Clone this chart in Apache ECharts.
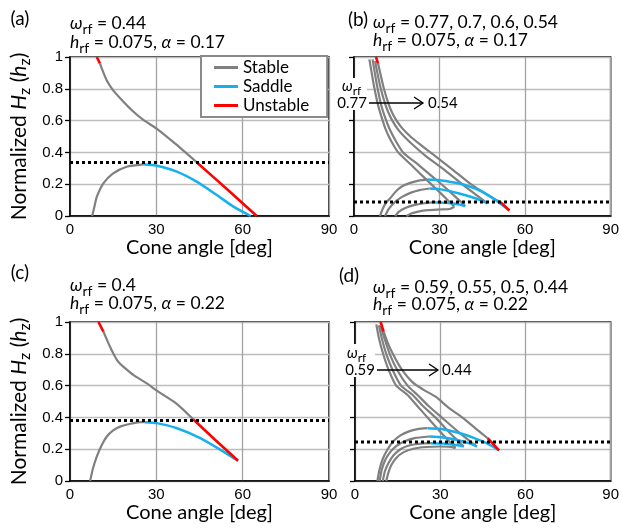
<!DOCTYPE html>
<html><head><meta charset="utf-8">
<script src="https://cdn.jsdelivr.net/npm/echarts@6/dist/echarts.min.js"></script>
<style>html,body{margin:0;padding:0;background:#fff}#c{width:622px;height:529px}</style>
</head><body><div id="c"></div>
<script>
// ---------- data (cone angle [deg], normalized Hz) ----------
const xTicks = [0, 30, 60, 90];
const yTicks = [0, 0.2, 0.4, 0.6, 0.8, 1];
const thresholds = [0.337, 0.0875, 0.38, 0.246];

// panel (a) omega_rf = 0.44, alpha = 0.17
const aUpperRed1 = [[9.3,1.0],[10.4,0.96]];
const aUpperGray = [[10.4,0.96],[11,0.93],[12.7,0.855],[15,0.79],[18,0.73],[21.4,0.667],[25.5,0.604],[30.1,0.55],[37.1,0.447],[44,0.338]];
const aUpperRed2 = [[44,0.338],[54.5,0.17],[64.9,0]];
const aLowerGray = [[7.7,0],[8.5,0.06],[9.3,0.12],[11.6,0.205],[15,0.268],[19.7,0.31],[25.5,0.325]];
const aLowerBlue = [[25.5,0.325],[30.1,0.316],[37.1,0.279],[44,0.216],[51,0.132],[56.8,0.059],[62.8,0]];

// panel (b) omega_rf = 0.77, 0.7, 0.6, 0.54, alpha = 0.17
const bUpper77 = [[5.4,0.985],[6.2,0.9],[7.2,0.8],[8.4,0.7],[9.7,0.62],[11,0.55],[12.8,0.48],[15.5,0.4],[20.2,0.319],[25,0.235],[30,0.15],[35.2,0.058]];
const bUpper70 = [[6.5,0.985],[7.3,0.9],[8.3,0.8],[9.5,0.7],[10.9,0.62],[12.4,0.55],[14.4,0.48],[17.2,0.4],[22.8,0.319],[28,0.24],[33.5,0.155],[39,0.063]];
const bUpper60 = [[7.4,0.975],[8.2,0.9],[9.4,0.8],[11,0.7],[12.2,0.645],[13.6,0.595],[15.4,0.545],[17.6,0.5],[20.5,0.45],[25,0.38],[31.7,0.29],[39,0.185],[46.8,0.08]];
const bUpper54Red1 = [[7.7,1.0],[8.4,0.962]];
const bUpper54 = [[8.4,0.962],[9.2,0.9],[10.5,0.8],[12.2,0.7],[13.5,0.645],[15.1,0.595],[17.1,0.548],[19.5,0.505],[22.5,0.46],[27.5,0.39],[34,0.3],[41,0.2],[47,0.13],[51.4,0.0875]];
const bUpper54Red2 = [[51.4,0.0875],[54.5,0.035]];
const bLower54Gray = [[9.1,0],[10.2,0.05],[11.3,0.085],[12.6,0.11],[15,0.16],[17.2,0.19],[20,0.21],[23,0.224],[25.9,0.229]];
const bLower54Blue = [[25.9,0.229],[30,0.225],[36.9,0.204],[43.9,0.162],[49.7,0.1],[54.5,0.035]];
const bLower60Gray = [[10.9,0],[12.2,0.045],[14.5,0.09],[17,0.122],[20,0.147],[23,0.163],[26.5,0.173]];
const bLower60Blue = [[26.5,0.173],[30,0.169],[36.9,0.142],[42.8,0.11],[46.8,0.08]];
const bLower70Gray = [[14.4,0],[15.8,0.028],[18,0.05],[21,0.068],[24.5,0.08],[27.7,0.086]];
const bLower70Blue = [[27.7,0.086],[32,0.083],[36,0.075],[39,0.063]];
const bLower77Gray = [[18.4,0],[20,0.016],[22.5,0.028],[26,0.037],[30,0.041],[33.5,0.044],[35.2,0.058]];

// panel (c) omega_rf = 0.4, alpha = 0.22
const cUpperRed1 = [[9.9,1.0],[11.6,0.94]];
const cUpperGray = [[11.6,0.94],[12.8,0.89],[13.95,0.843],[15.7,0.78],[17,0.745],[18.6,0.718],[22.1,0.666],[26.7,0.614],[30.2,0.568],[37.2,0.484],[42.8,0.388]];
const cUpperRed2 = [[42.8,0.388],[50.5,0.258],[58.4,0.127]];
const cLowerGray = [[7.0,0],[8.0,0.08],[9.3,0.154],[11,0.225],[12.8,0.28],[15,0.318],[17.4,0.342],[21,0.36],[24.4,0.37],[26,0.37]];
const cLowerBlue = [[26,0.37],[30.2,0.364],[37.2,0.332],[45.3,0.27],[52.3,0.196],[58.4,0.127]];

// panel (d) omega_rf = 0.59, 0.55, 0.5, 0.44, alpha = 0.22
const dUpper59 = [[7.5,0.985],[8.4,0.9],[9.9,0.8],[11.8,0.7],[14.5,0.6],[18.5,0.541],[22,0.47],[26,0.39],[30.5,0.3],[35.4,0.207]];
const dUpper55 = [[8.4,0.98],[9.4,0.9],[11,0.8],[13.2,0.7],[16.2,0.6],[20.3,0.541],[24,0.47],[28.3,0.4],[33.5,0.3],[38.3,0.217]];
const dUpper50 = [[9.0,0.975],[10.3,0.9],[12.2,0.8],[14.8,0.7],[18.5,0.6],[22,0.541],[26,0.47],[30.5,0.4],[37,0.3],[42.9,0.217]];
const dUpper44Red1 = [[9.0,1.0],[10.1,0.94]];
const dUpper44 = [[10.1,0.94],[11.5,0.87],[13.3,0.8],[16.5,0.7],[20.3,0.62],[24,0.575],[28.4,0.53],[33,0.46],[37.7,0.4],[42.5,0.33],[46.7,0.269]];
const dUpper44Red2 = [[46.7,0.269],[50.7,0.192]];
const dLower44Gray = [[7.9,0],[8.6,0.07],[9.8,0.14],[11.5,0.2],[13.5,0.25],[16,0.287],[19,0.312],[22,0.326],[25.5,0.332]];
const dLower44Blue = [[25.5,0.332],[30,0.328],[36,0.305],[42,0.27],[46.7,0.235],[50.7,0.192]];
const dLower50Gray = [[8.7,0],[9.4,0.07],[10.6,0.13],[12.3,0.18],[14.5,0.22],[17.5,0.25],[21,0.27],[26.1,0.28]];
const dLower50Blue = [[26.1,0.28],[31,0.274],[36,0.258],[40,0.238],[42.9,0.217]];
const dLower55Gray = [[9.8,0],[10.5,0.06],[11.7,0.11],[13.5,0.16],[16,0.2],[19,0.223],[23,0.235],[26.7,0.238]];
const dLower55Blue = [[26.7,0.238],[31,0.236],[35,0.228],[38.3,0.217]];
const dLower59Gray = [[11,0],[11.7,0.05],[12.8,0.1],[14.5,0.145],[17,0.18],[20.5,0.203],[25,0.214],[30,0.217],[33.5,0.215],[35.4,0.207]];

// ---------- chart ----------
const GRAY = '#808080', BLUE = '#17b0ee', RED = '#ff0000';
const STY = {Stable: [GRAY, 2.2, 2], Saddle: [BLUE, 2.5, 3], Unstable: [RED, 2.6, 4]};
const TXT = 'Lato';

function ser(gi, data, kind) {
  const st = STY[kind];
  return {type: 'line', name: kind, xAxisIndex: gi, yAxisIndex: gi, data: data,
    symbol: 'none', showSymbol: false, smooth: 0.22, silent: true, z: st[2],
    lineStyle: {color: st[0], width: st[1]}, itemStyle: {color: st[0]}};
}
function dot(gi, h) {
  return {type: 'line', xAxisIndex: gi, yAxisIndex: gi, data: [[0, h], [90, h]], symbol: 'none',
    silent: true, z: 6, lineStyle: {color: '#000', width: 3, type: [3, 3]}};
}
const grids = [
  {left: 70, top: 57, width: 259, height: 159},
  {left: 354, top: 57, width: 258, height: 159},
  {left: 70, top: 322, width: 259, height: 159},
  {left: 355, top: 322, width: 258, height: 159}
].map(g => Object.assign(g, {show: true, borderColor: '#000', borderWidth: 1.5, backgroundColor: 'transparent'}));

function xAx(gi) {
  return {gridIndex: gi, type: 'value', min: xTicks[0], max: xTicks[xTicks.length - 1], interval: 30,
    axisLine: {show: true, onZero: false, lineStyle: {color: '#000', width: 1.5}},
    axisTick: {show: false},
    axisLabel: {fontSize: 15, fontFamily: 'Liberation Sans', color: '#000', margin: 6},
    splitLine: {show: true, lineStyle: {color: '#a3a3a3', width: 1.3}},
    name: 'Cone angle [deg]', nameLocation: 'middle', nameGap: 17,
    nameTextStyle: {fontSize: 20, fontFamily: TXT, color: '#000'}};
}
function yAx(gi, lab) {
  return {gridIndex: gi, type: 'value', min: yTicks[0], max: yTicks[yTicks.length - 1], interval: 0.2,
    axisLine: {show: true, onZero: false, lineStyle: {color: '#000', width: 1.5}},
    axisTick: {show: true, length: 5, lineStyle: {color: '#000', width: 1.3}},
    axisLabel: {show: lab, fontSize: 15, fontFamily: 'Liberation Sans', color: '#000', margin: 7},
    splitLine: {show: true, lineStyle: {color: '#bdbdbd', width: 1.3}},
    name: lab ? 'Normalized {i|H}{s|z} ({i|h}{s|z})' : '', nameLocation: 'middle', nameGap: 37,
    nameTextStyle: {fontSize: 21, fontFamily: TXT, color: '#000',
      rich: {i: {fontSize: 21, fontFamily: TXT, fontStyle: 'italic', color: '#000'},
             s: {fontSize: 16, fontFamily: TXT, color: '#000', padding: [12, 0, 0, 0]}}}};
}

const series = [
  ser(0, aUpperGray, 'Stable'), ser(0, aLowerGray, 'Stable'), ser(0, aLowerBlue, 'Saddle'),
  ser(0, aUpperRed1, 'Unstable'), ser(0, aUpperRed2, 'Unstable'),
  ser(1, bUpper77, 'Stable'), ser(1, bUpper70, 'Stable'), ser(1, bUpper60, 'Stable'), ser(1, bUpper54, 'Stable'),
  ser(1, bLower54Gray, 'Stable'), ser(1, bLower60Gray, 'Stable'), ser(1, bLower70Gray, 'Stable'), ser(1, bLower77Gray, 'Stable'),
  ser(1, bLower54Blue, 'Saddle'), ser(1, bLower60Blue, 'Saddle'), ser(1, bLower70Blue, 'Saddle'),
  ser(1, bUpper54Red1, 'Unstable'), ser(1, bUpper54Red2, 'Unstable'),
  ser(2, cUpperGray, 'Stable'), ser(2, cLowerGray, 'Stable'), ser(2, cLowerBlue, 'Saddle'),
  ser(2, cUpperRed1, 'Unstable'), ser(2, cUpperRed2, 'Unstable'),
  ser(3, dUpper59, 'Stable'), ser(3, dUpper55, 'Stable'), ser(3, dUpper50, 'Stable'), ser(3, dUpper44, 'Stable'),
  ser(3, dLower44Gray, 'Stable'), ser(3, dLower50Gray, 'Stable'), ser(3, dLower55Gray, 'Stable'), ser(3, dLower59Gray, 'Stable'),
  ser(3, dLower44Blue, 'Saddle'), ser(3, dLower50Blue, 'Saddle'), ser(3, dLower55Blue, 'Saddle'),
  ser(3, dUpper44Red1, 'Unstable'), ser(3, dUpper44Red2, 'Unstable'),
  dot(0, thresholds[0]), dot(1, thresholds[1]), dot(2, thresholds[2]), dot(3, thresholds[3])
];

const R = {
  n: {fontSize: 17.5, fontFamily: TXT, color: '#000'},
  i: {fontSize: 17.5, fontFamily: TXT, fontStyle: 'italic', color: '#000'},
  s: {fontSize: 14, fontFamily: TXT, color: '#000', padding: [13, 0, 0, 0]},
  an: {fontSize: 15, fontFamily: TXT, color: '#000'},
  ai: {fontSize: 15, fontFamily: TXT, fontStyle: 'italic', color: '#000'},
  as: {fontSize: 12, fontFamily: TXT, color: '#000', padding: [11, 0, 0, 0]}
};
function txt(x, y, text, align) {
  return {type: 'text', x: x, y: y, z: 100,
    style: {text: text, rich: R, fontSize: 17, fontFamily: TXT, fill: '#000', align: align || 'left', verticalAlign: 'middle'}};
}
function lbl(x, y, text) {
  return {type: 'text', x: x, y: y, z: 100,
    style: {text: text, fontSize: 19, fontFamily: TXT, fill: '#000', align: 'center', verticalAlign: 'middle'}};
}
function arrow(x1, x2, y) {
  return [
    {type: 'line', z: 100, shape: {x1: x1, y1: y, x2: x2, y2: y}, style: {stroke: '#000', lineWidth: 1.3}},
    {type: 'polyline', z: 100, shape: {points: [[x2 - 9, y - 6], [x2, y], [x2 - 9, y + 6]]}, style: {stroke: '#000', lineWidth: 1.3, fill: null}}
  ];
}
const graphic = [
  lbl(20, 19, '(a)'), lbl(358, 20, '(b)'), lbl(20, 273, '(c)'), lbl(349, 276, '(d)'),
  txt(70, 23, '{i|ω}{s|rf}{n| = 0.44}'),
  txt(70, 42, '{i|h}{s|rf}{n| = 0.075, }{i|α}{n| = 0.17}'),
  txt(373, 22, '{i|ω}{s|rf}{n| = 0.77, 0.7, 0.6, 0.54}'),
  txt(373, 40, '{i|h}{s|rf}{n| = 0.075, }{i|α}{n| = 0.17}'),
  txt(70, 285, '{i|ω}{s|rf}{n| = 0.4}'),
  txt(70, 303, '{i|h}{s|rf}{n| = 0.075, }{i|α}{n| = 0.22}'),
  txt(373, 287, '{i|ω}{s|rf}{n| = 0.59, 0.55, 0.5, 0.44}'),
  txt(373, 304, '{i|h}{s|rf}{n| = 0.075, }{i|α}{n| = 0.22}'),
  {type: 'rect', z: 99, shape: {x: 341, y: 78, width: 26, height: 32}, style: {fill: '#fff'}},
  txt(342, 86, '{ai|ω}{as|rf}'),
  txt(367, 103, '{an|0.77}', 'right'),
  ...arrow(369, 423, 103),
  txt(428, 103, '{an|0.54}'),
  {type: 'rect', z: 99, shape: {x: 346, y: 344, width: 29, height: 33}, style: {fill: '#fff'}},
  txt(347, 353, '{ai|ω}{as|rf}'),
  txt(375, 370, '{an|0.59}', 'right'),
  ...arrow(377, 438, 370),
  txt(442, 370, '{an|0.44}')
];

const chart = echarts.init(document.getElementById('c'), null, {renderer: 'canvas'});
chart.setOption({
  animation: false,
  backgroundColor: '#fff',
  grid: grids,
  xAxis: [xAx(0), xAx(1), xAx(2), xAx(3)],
  yAxis: [yAx(0, true), yAx(1, false), yAx(2, true), yAx(3, false)],
  legend: {data: ['Stable', 'Saddle', 'Unstable'], orient: 'vertical', left: 201, top: 56, z: 50,
    selectedMode: false, padding: [3, 18, 3, 13], itemGap: 2, itemWidth: 24, itemHeight: 17,
    icon: 'path://M0,0H24V3H0Z',
    borderColor: '#8a8a8a', borderWidth: 2, backgroundColor: '#fff',
    textStyle: {fontSize: 17, fontFamily: TXT, color: '#000'}},
  series: series,
  graphic: graphic
});
</script></body></html>
